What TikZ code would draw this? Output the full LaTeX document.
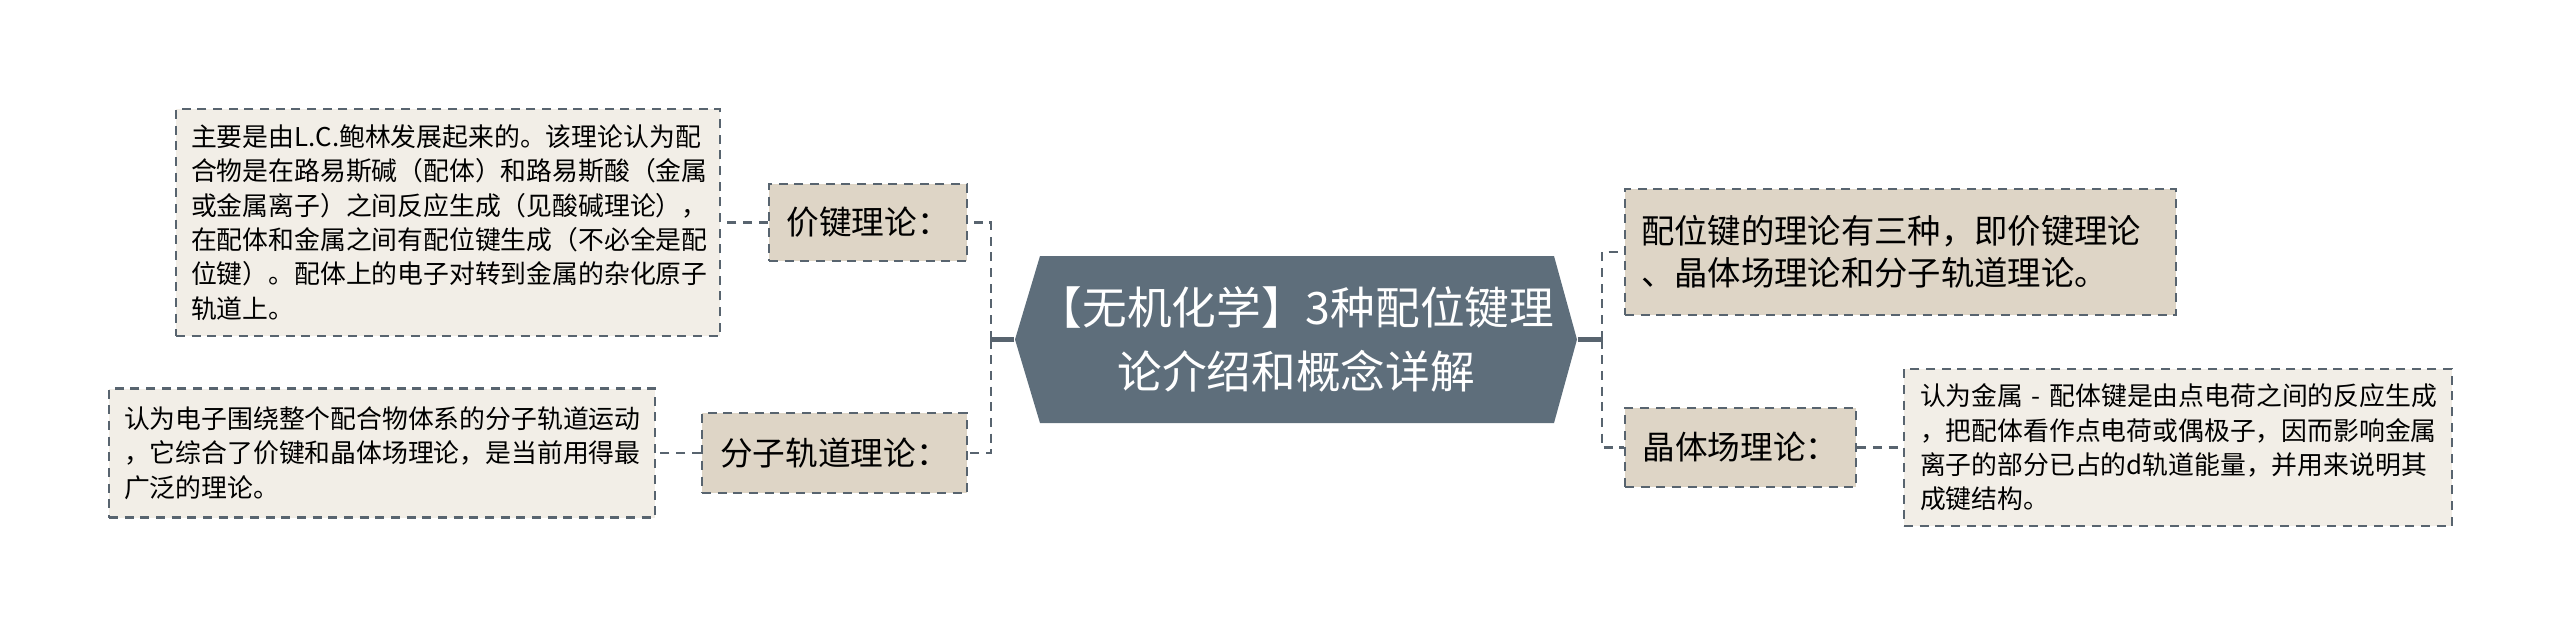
\documentclass[tikz,border=0pt]{standalone}
\usepackage{fontspec}
\setmainfont{Noto Sans CJK SC}
\usepackage{tikz}
\definecolor{linecol}{RGB}{88,100,111}
\definecolor{rootcol}{RGB}{94,110,123}
\definecolor{topiccol}{RGB}{222,213,198}
\definecolor{leafcol}{RGB}{242,238,231}

\begin{document}
\begin{tikzpicture}[x=0.3pt,y=0.3pt,yscale=-1,xscale=1,
  link/.style={draw=linecol,line width=0.75pt,dash pattern=on 2.7pt off 2pt},
  stem/.style={draw=linecol,line width=1.4pt},
  box/.style={draw=linecol,line width=0.75pt,dash pattern=on 2.7pt off 2pt,inner xsep=4.5pt,inner ysep=0pt},
  leaf/.style={box,fill=leafcol,align=left,font=\fontsize{7.75}{10.3}\selectfont},
  topic/.style={box,fill=topiccol,align=center,font=\fontsize{9.8}{12.7}\selectfont}]
%uncomment if require: \path (0,638); %set diagram left start at 0, and has height of 638
\useasboundingbox (0,0) rectangle (2560,638);

%Shape: Hexagon [id:root]
\fill [rootcol] (1015,339.5) -- (1040,256) -- (1554,256) -- (1577,339.5) -- (1554,423) -- (1040,423) -- cycle ;
\node (root) at (1296,339.5) [minimum width=168.6pt,minimum height=50.1pt,inner sep=0pt,align=center,text=white,font=\fontsize{13.4}{19.2}\selectfont] {【无机化学】3种配位键理\\论介绍和概念详解};

%Shape: Rectangle [id:vb]
\node (vb) at (868,222.5) [topic,minimum width=59.4pt,minimum height=23.1pt] {价键理论：};
%Shape: Rectangle [id:mo]
\node (mo) at (834.5,453) [topic,minimum width=79.5pt,minimum height=24pt] {分子轨道理论：};
%Shape: Rectangle [id:intro]
\node (intro) at (1900.5,252) [topic,align=left,inner xsep=4.8pt,text width=155.7pt,minimum height=37.8pt,font=\fontsize{10}{12.7}\selectfont] {配位键的理论有三种，即价键理论\\、晶体场理论和分子轨道理论。};
%Shape: Rectangle [id:cf]
\node (cf) at (1740.5,447.5) [topic,minimum width=69.3pt,minimum height=23.7pt] {晶体场理论：};

%Shape: Rectangle [id:vbd]
\node (vbd) at (448,222.5) [leaf,text width=154.2pt,minimum height=68.1pt] {主要是由L.C.鲍林发展起来的。该理论认为配\\合物是在路易斯碱（配体）和路易斯酸（金属\\或金属离子）之间反应生成（见酸碱理论），\\在配体和金属之间有配位键生成（不必全是配\\位键）。配体上的电子对转到金属的杂化原子\\轨道上。};
%Shape: Rectangle [id:mod]
\node (mod) at (382,453) [leaf,text width=154.8pt,minimum height=38.7pt] {认为电子围绕整个配合物体系的分子轨道运动\\，它综合了价键和晶体场理论，是当前用得最\\广泛的理论。};
%Shape: Rectangle [id:cfd]
\node (cfd) at (2178,447.5) [leaf,inner xsep=4.8pt,text width=154.8pt,minimum height=47.1pt] {\mbox{认为金属 - 配体键是由点电荷之间的反应生成}\\，把配体看作点电荷或偶极子，因而影响金属\\离子的部分已占的d轨道能量，并用来说明其\\成键结构。};

%Straight Lines [id:stems]
\coordinate (lj) at (991,339.5);
\coordinate (rj) at (1602,339.5);
\draw [stem] (root.west) -- (lj) ;
\draw [stem] (root.east) -- (rj) ;
%Elbow Lines [id:links]
\draw [link] (lj) |- (vb.east) ;
\draw [link] (lj) |- (mo.east) ;
\draw [link] (rj) |- (intro.west) ;
\draw [link] (rj) |- (cf.west) ;
%Straight Lines [id:details]
\draw [link] (vb.west) -- (vbd.east) ;
\draw [link] (mo.west) -- (mod.east) ;
\draw [link] (cf.east) -- (cfd.west) ;

\end{tikzpicture}
\end{document}
